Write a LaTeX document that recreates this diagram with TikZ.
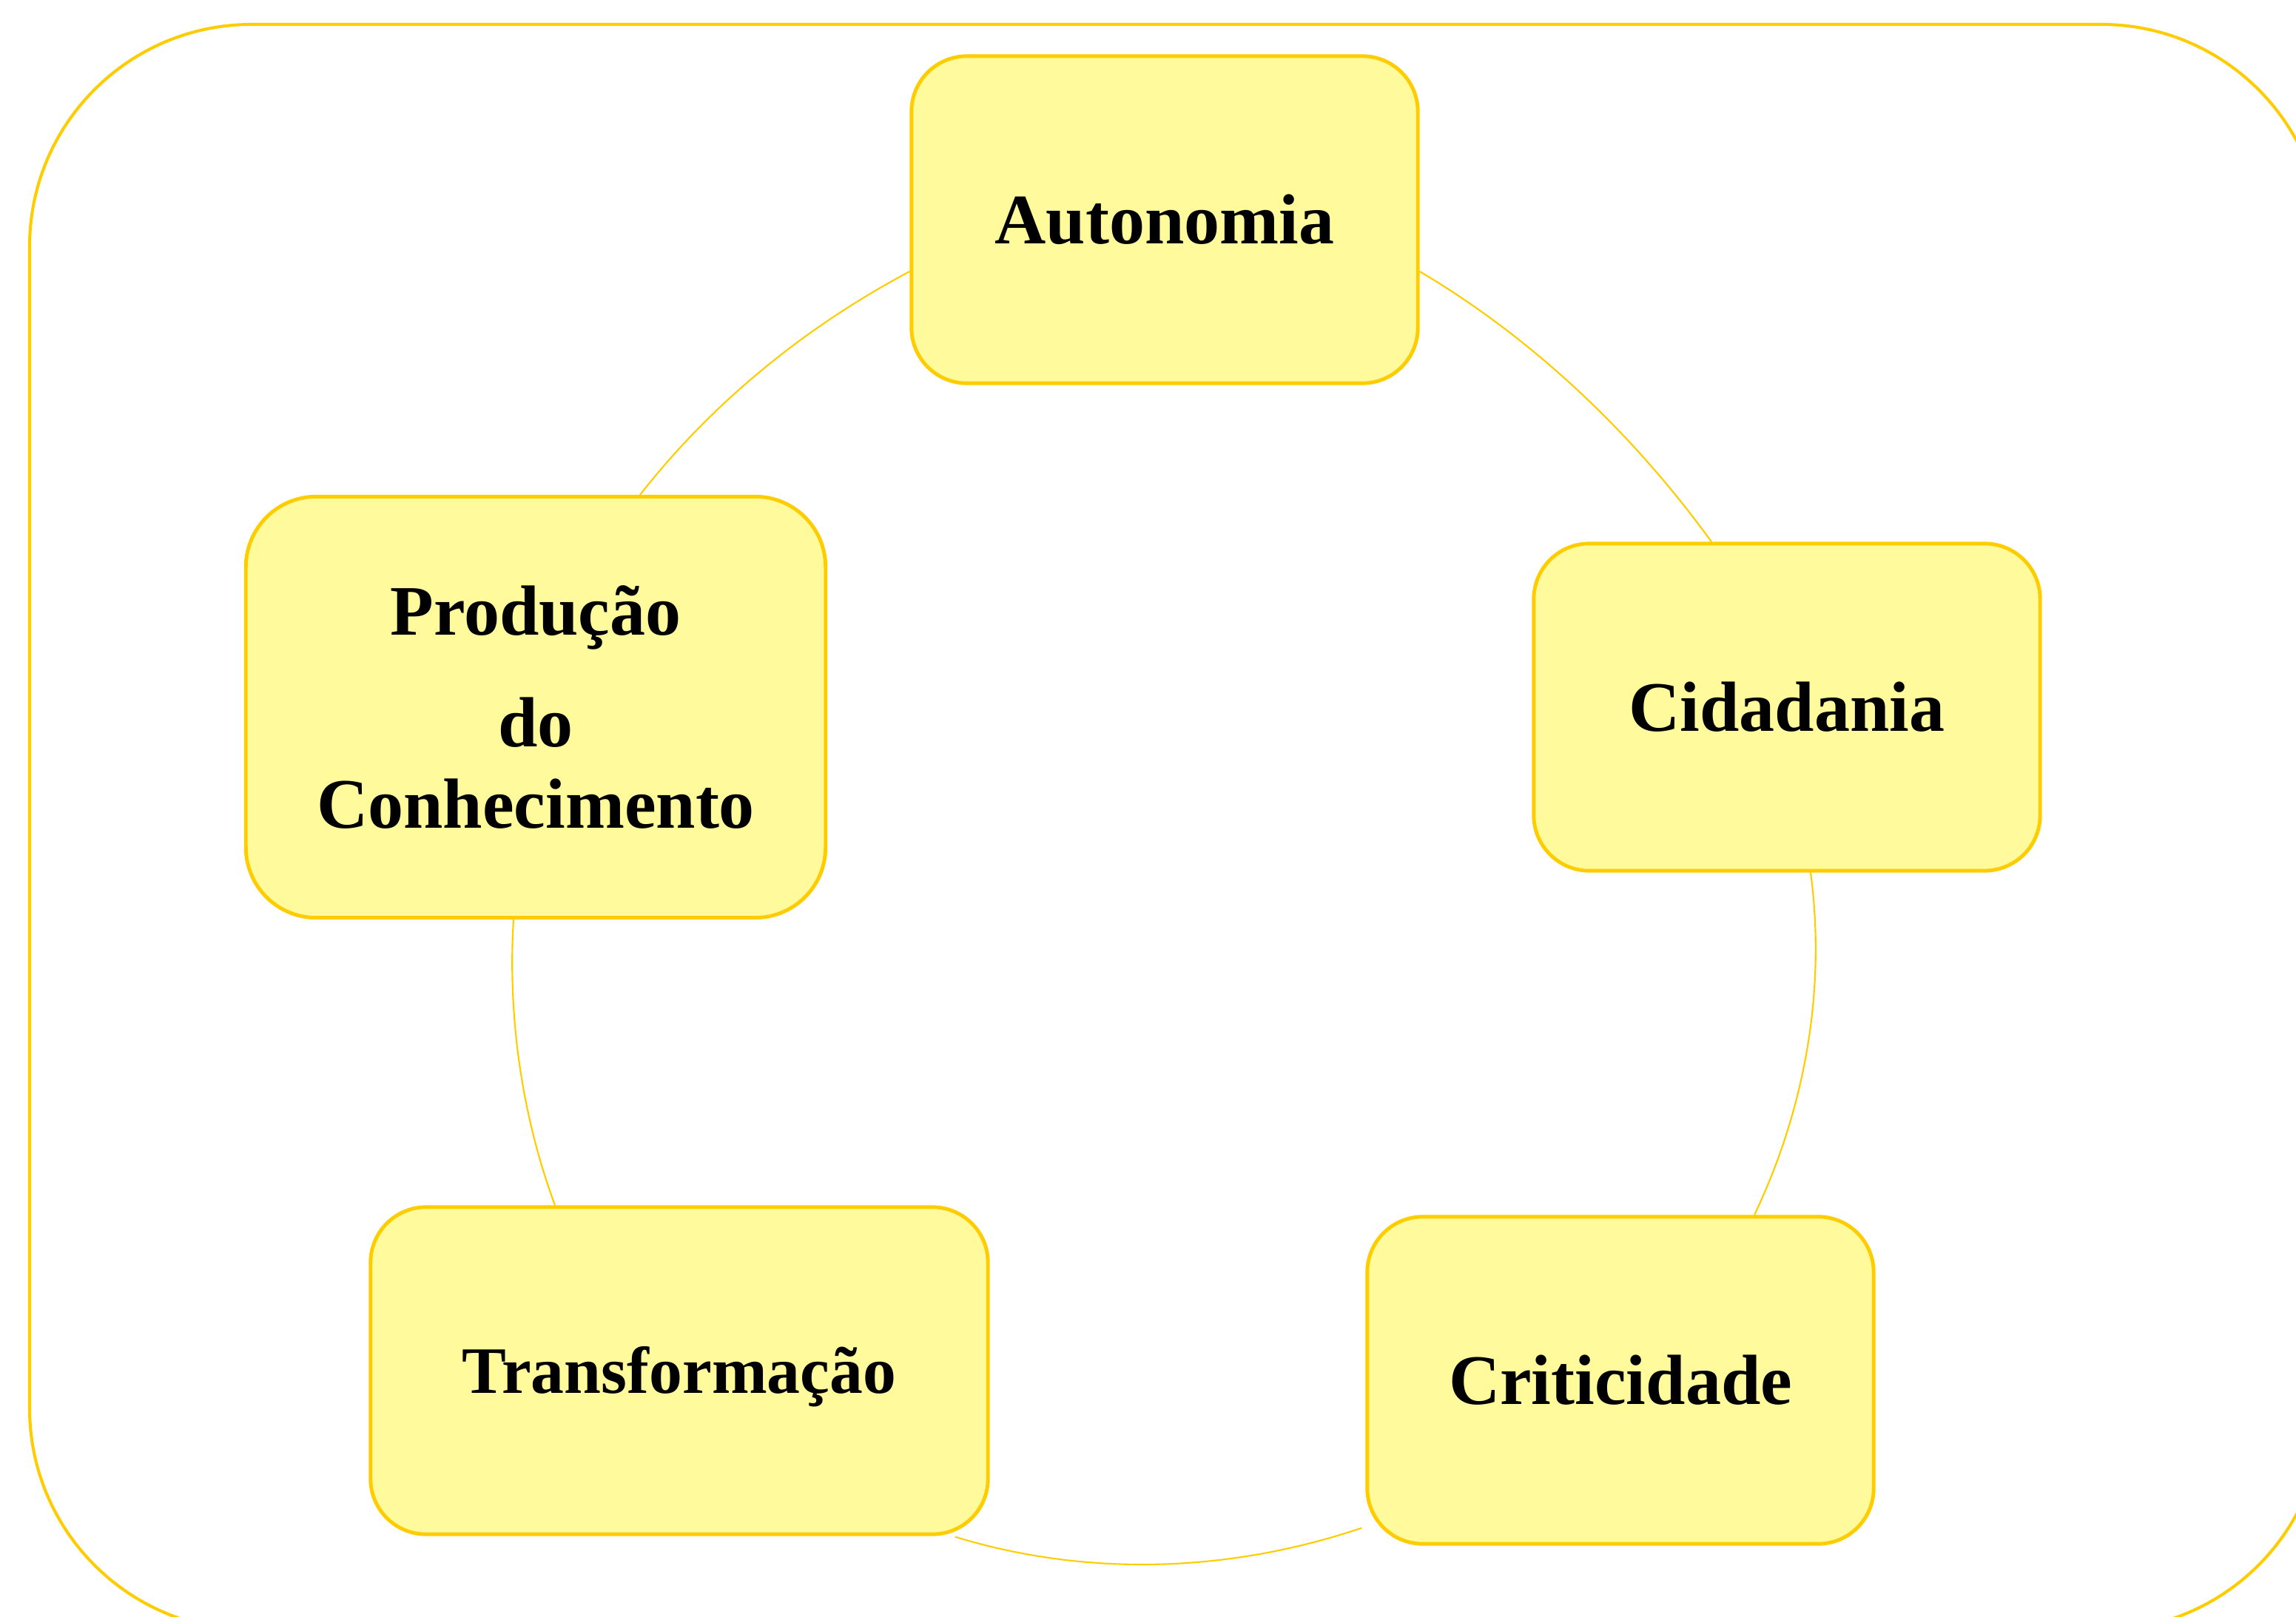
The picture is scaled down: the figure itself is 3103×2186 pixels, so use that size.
\documentclass[tikz,border=0pt]{standalone}
\usepackage{fontspec}
\setmainfont{Liberation Serif}
\usetikzlibrary{calc}
\definecolor{bord}{RGB}{255,204,0}
\definecolor{boxfill}{RGB}{255,250,155}
\begin{document}
\begin{tikzpicture}[x=0.01cm,y=-0.01cm,
  card/.style={draw=bord, fill=boxfill, line width=1.4pt, rounded corners=0.75cm,
    minimum width=6.84cm, minimum height=4.42cm, inner sep=0pt, align=center,
    font=\fontsize{27.3}{31.3}\selectfont\bfseries},
  oneline/.style={text height=0.65cm, text depth=0pt},
  link/.style={draw=bord, line width=0.6pt},
  frame/.style={draw=bord, line width=1.15pt, rounded corners=3cm}]
\useasboundingbox (0,0) rectangle (3103,2186);
\clip (0,0) rectangle (3103,2186);
\draw[frame] (40,33) rectangle (3140,2204);

\node[card, oneline] (auto) at (1574,297) {Autonomia};
\node[card, oneline] (cid) at (2415,956) {Cidadania};
\node[card, oneline] (crit) at (2190,1866) {Criticidade};
\node[card, minimum width=8.34cm, text height=0.61cm, text depth=0pt,
  font=\fontsize{25.5}{29}\selectfont\bfseries] (trans) at (918,1853) {Transformação};
\node[card, minimum width=7.83cm, minimum height=5.69cm, rounded corners=0.95cm] (prod) at (724,956)
  {Produção\\[11.4pt]do\\Conhecimento};

\path[link] ($(auto.east)+(0,70)$) .. controls +(154,91) and +(-105,-145) .. ($(cid.north)+(-102,0)$);
\path[link] ($(cid.south)+(32,0)$) .. controls +(21,157) and +(69,-145) .. ($(crit.north)+(181,0)$);
\path[link] ($(crit.south west)+(-5,-24)$) .. controls +(-178,60) and +(180,55) .. ($(trans.south east)+(-47,1)$);
\path[link] ($(trans.north)+(-168,0)$) .. controls +(-45,-122) and +(-8,130) .. ($(prod.south)+(-30,0)$);
\path[link] ($(prod.north)+(141,0)$) .. controls +(98,-125) and +(-141,75) .. ($(auto.west)+(0,70)$);
\end{tikzpicture}
\end{document}
